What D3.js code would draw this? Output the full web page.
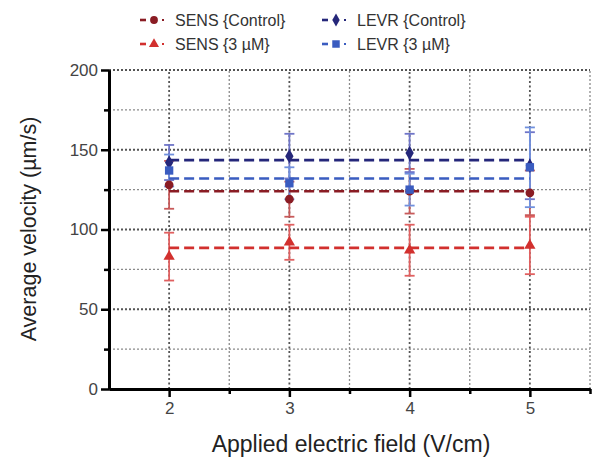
<!DOCTYPE html>
<html><head><meta charset="utf-8">
<script src="https://cdn.jsdelivr.net/npm/d3@7"></script>
<style>body{margin:0;background:#fff}svg{display:block}text{font-family:"Liberation Sans",Arial,sans-serif}</style>
</head><body>
<svg id="c" width="601" height="468"></svg>
<script>
const fields = [2, 3, 4, 5];
const seriesNames = ["SENS {Control}", "SENS {3 \u00b5M}", "LEVR {Control}", "LEVR {3 \u00b5M}"];
const sensControl = [128, 119, 124, 123];
const sensControlErr = [15, 11, 14, 14];
const sens3uM = [83, 92, 87, 90];
const sens3uMErr = [15, 11, 16, 18];
const levrControl = [142, 146, 148, 140];
const levrControlErr = [11, 14, 12, 21];
const levr3uM = [137, 129, 125, 139];
const levr3uMErr = [10, 10, 10, 25];
const means = [124, 88.5, 143.5, 132];
const yTicks = [0, 50, 100, 150, 200];
const yMinor = [25, 75, 125, 175];
const xTicks = [2, 3, 4, 5];
const xMinor = [2.5, 3.5, 4.5, 5.5];

const colors = ["#8a1c24", "#d2302e", "#25277a", "#3a5cc0"];
const errColors = ["#c85a5a", "#e06060", "#6f75c8", "#7090dd"];
const symbols = [d3.symbolCircle, d3.symbolTriangle, d3.symbolDiamond, d3.symbolSquare];
const symSizes = [60, 55, 60, 70];
const values = [sensControl, sens3uM, levrControl, levr3uM];
const errs = [sensControlErr, sens3uMErr, levrControlErr, levr3uMErr];

const svg = d3.select("#c");
const x = d3.scaleLinear().domain([1.5, 5.5]).range([109, 590]);
const y = d3.scaleLinear().domain([0, 200]).range([389, 70]);

// grid
const g = svg.append("g");
yMinor.forEach(v => g.append("line").attr("x1", x(1.5)).attr("x2", x(5.5)).attr("y1", y(v)).attr("y2", y(v))
  .attr("stroke", "#8a8a8a").attr("stroke-width", 1.3).attr("stroke-dasharray", "2,2"));
yTicks.filter(v => v > 0).forEach(v => g.append("line").attr("x1", x(1.5)).attr("x2", x(5.5)).attr("y1", y(v)).attr("y2", y(v))
  .attr("stroke", "#555").attr("stroke-width", 1.8).attr("stroke-dasharray", "2,2"));
xMinor.forEach(v => g.append("line").attr("x1", x(v)).attr("x2", x(v)).attr("y1", y(0)).attr("y2", y(200))
  .attr("stroke", "#8a8a8a").attr("stroke-width", 1.3).attr("stroke-dasharray", "2,2"));
xTicks.forEach(v => g.append("line").attr("x1", x(v)).attr("x2", x(v)).attr("y1", y(0)).attr("y2", y(200))
  .attr("stroke", "#555").attr("stroke-width", 1.8).attr("stroke-dasharray", "2,2.5"));

// error bars
values.forEach((vals, s) => {
  const eg = svg.append("g").attr("stroke", errColors[s]).attr("stroke-width", 1.8);
  fields.forEach((f, i) => {
    const v = vals[i], e = errs[s][i];
    eg.append("line").attr("x1", x(f)).attr("x2", x(f)).attr("y1", y(v - e)).attr("y2", y(v + e));
    [v - e, v + e].forEach(c => eg.append("line").attr("x1", x(f) - 5).attr("x2", x(f) + 5).attr("y1", y(c)).attr("y2", y(c)));
  });
});

// dashed mean lines
means.forEach((m, s) => {
  svg.append("line").attr("x1", x(2)).attr("x2", x(5)).attr("y1", y(m)).attr("y2", y(m))
    .attr("stroke", colors[s]).attr("stroke-width", 2.6).attr("stroke-dasharray", "10,5");
});

// markers
values.forEach((vals, s) => {
  svg.append("g").selectAll("path").data(fields).join("path")
    .attr("transform", (f, i) => `translate(${x(f)},${y(vals[i])})`)
    .attr("d", d3.symbol().type(symbols[s]).size(symSizes[s]))
    .attr("fill", colors[s]);
});

// axes
svg.append("g").attr("transform", `translate(${x(1.5)},0)`)
  .call(d3.axisLeft(y).tickValues(yTicks).tickSize(8).tickSizeOuter(0).tickPadding(3));
svg.append("g").attr("transform", `translate(${x(1.5)},0)`)
  .call(d3.axisLeft(y).tickValues(yMinor).tickSize(5).tickSizeOuter(0).tickFormat(""));
svg.append("g").attr("transform", `translate(0,${y(0)})`)
  .call(d3.axisBottom(x).tickValues(xTicks).tickSize(8).tickSizeOuter(0).tickPadding(5).tickFormat(d3.format("d")));
svg.append("g").attr("transform", `translate(0,${y(0)})`)
  .call(d3.axisBottom(x).tickValues(xMinor).tickSize(5).tickSizeOuter(0).tickFormat(""));
svg.selectAll(".domain").attr("stroke", "#000").attr("stroke-width", 3);
svg.selectAll(".tick line").attr("stroke", "#000").attr("stroke-width", 2.5);
svg.selectAll(".tick text").attr("font-size", 17).attr("fill", "#444");

// axis titles
svg.append("text").attr("x", 351).attr("y", 452).attr("text-anchor", "middle")
  .attr("font-size", 23).attr("fill", "#222").text("Applied electric field (V/cm)");
svg.append("text").attr("transform", "translate(36,229) rotate(-90)").attr("text-anchor", "middle")
  .attr("font-size", 21.5).attr("fill", "#222").text("Average velocity (\u00b5m/s)");

// legend
const legPos = [[140, 20], [140, 44], [322, 20], [322, 44]];
seriesNames.forEach((n, s) => {
  const [lx, ly] = legPos[s];
  const lg = svg.append("g").attr("transform", `translate(${lx},${ly})`);
  lg.append("line").attr("x1", 0).attr("x2", 6).attr("y1", 0).attr("y2", 0).attr("stroke", colors[s]).attr("stroke-width", 2.6);
  lg.append("path").attr("transform", "translate(14,0)").attr("d", d3.symbol().type(symbols[s]).size(symSizes[s] * 0.8)).attr("fill", colors[s]);
  lg.append("line").attr("x1", 22).attr("x2", 24).attr("y1", 0).attr("y2", 0).attr("stroke", colors[s]).attr("stroke-width", 2);
  lg.append("text").attr("x", 35).attr("y", 6).attr("font-size", 16).attr("fill", "#333").text(n);
});
</script>
</body></html>
